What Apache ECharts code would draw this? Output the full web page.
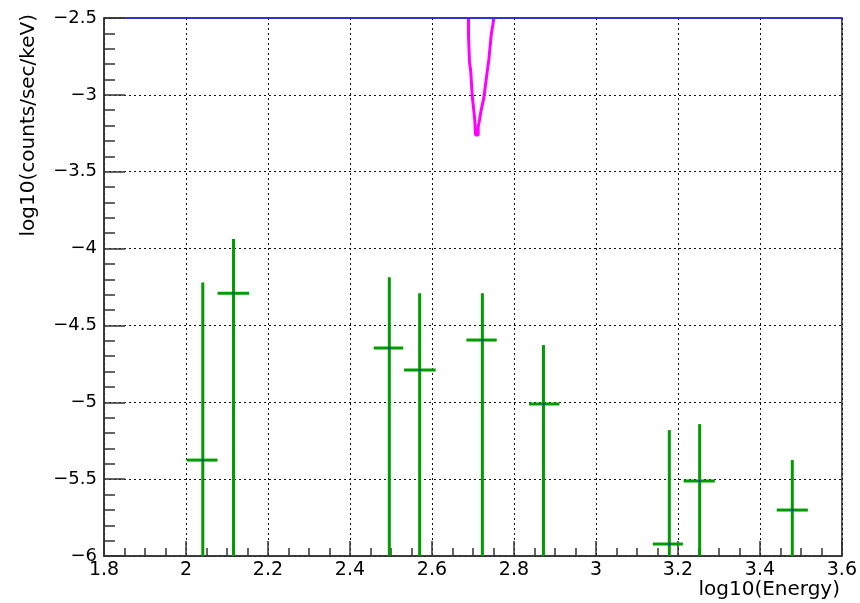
<!DOCTYPE html>
<html>
<head>
<meta charset="utf-8">
<script src="https://cdn.jsdelivr.net/npm/echarts@6/dist/echarts.min.js"></script>
<style>
  html, body { margin: 0; padding: 0; background: #fff; }
  #chart { width: 860px; height: 603px; }
</style>
</head>
<body>
<div id="chart"></div>
<script>
// Measured spectrum: log10 energy of each bin centre, bin edges, and rate with errors
const energy  = [2.041, 2.116, 2.496, 2.570, 2.723, 2.872, 3.179, 3.253, 3.479];
const binLo   = [2.002, 2.077, 2.458, 2.532, 2.684, 2.837, 3.139, 3.214, 3.441];
const binHi   = [2.077, 2.154, 2.530, 2.609, 2.758, 2.911, 3.212, 3.290, 3.517];
const rate    = [-5.376, -4.291, -4.647, -4.790, -4.595, -5.011, -5.922, -5.512, -5.701];
const rateHi  = [-4.220, -3.938, -4.187, -4.291, -4.291, -4.628, -5.181, -5.142, -5.376];
// lower error ends all fall below the plotted range
const rateLo  = [-7.0, -7.0, -7.0, -7.0, -7.0, -7.0, -7.0, -7.0, -7.0];

// Line model (magenta): only the dip around log10(E) ~ 2.71 lies inside the frame
const lineModelX = [2.6891, 2.6891, 2.6915, 2.6947, 2.6981, 2.7020, 2.7045, 2.7062, 2.7128,
                    2.7128, 2.7160, 2.7201, 2.7265, 2.7306, 2.7348, 2.7387, 2.7411, 2.7445, 2.7485, 2.7509];
const lineModelY = [-2.500, -2.611, -2.784, -2.849, -3.001, -3.099, -3.164, -3.261, -3.261,
                    -3.207, -3.164, -3.099, -3.020, -2.936, -2.849, -2.773, -2.708, -2.611, -2.546, -2.500];

// Continuum model (blue): above the frame everywhere, drawn at the upper edge
const contModelX = [1.851, 3.6];
const contModelY = [-2.5, -2.5];

// Axis ranges and tick spacing
const xRange = [1.8, 3.6], xStep = 0.2;
const yRange = [-6, -2.5], yStep = 0.5;

const FONT = 'DejaVu Sans';
const AXIS_COLOR = '#333';
const fmt = v => String(+(+v).toFixed(2)).replace('-', '\u2212');

const chart = echarts.init(document.getElementById('chart'), null, { renderer: 'canvas' });

const pointData = energy.map((e, i) => [e, rate[i], binLo[i], binHi[i], rateLo[i], rateHi[i]]);

chart.setOption({
  animation: false,
  backgroundColor: '#fff',
  grid: {
    left: 104, top: 18, right: 18, bottom: 47,
    show: true, borderColor: AXIS_COLOR, borderWidth: 1.5, backgroundColor: 'transparent'
  },
  xAxis: {
    type: 'value', min: xRange[0], max: xRange[1], interval: xStep,
    axisLine: { onZero: false, lineStyle: { color: AXIS_COLOR, width: 1.5 } },
    axisTick: { inside: true, length: 15, lineStyle: { color: AXIS_COLOR, width: 1.5 } },
    minorTick: { show: true, splitNumber: 4, length: 8, lineStyle: { color: AXIS_COLOR, width: 1.5 } },
    splitLine: { show: true, lineStyle: { color: '#111', type: [2, 3], width: 1 } },
    axisLabel: { formatter: fmt, fontFamily: FONT, fontSize: 19, color: '#000', margin: 5 }
  },
  yAxis: {
    type: 'value', min: yRange[0], max: yRange[1], interval: yStep,
    axisLine: { onZero: false, lineStyle: { color: AXIS_COLOR, width: 1.5 } },
    axisTick: { inside: true, length: 21, lineStyle: { color: AXIS_COLOR, width: 1.5 } },
    minorTick: { show: true, splitNumber: 5, length: 11, lineStyle: { color: AXIS_COLOR, width: 1.5 } },
    splitLine: { show: true, lineStyle: { color: '#111', type: [2, 3], width: 1 } },
    axisLabel: { formatter: fmt, fontFamily: FONT, fontSize: 18, color: '#000', margin: 7 }
  },
  graphic: [
    {
      type: 'text', x: 840, y: 590,
      style: { text: 'log10(Energy)', font: '20px "DejaVu Sans"', fill: '#000', align: 'right', verticalAlign: 'middle' }
    },
    {
      type: 'text', x: 29, y: 14, rotation: Math.PI / 2,
      style: { text: 'log10(counts/sec/keV)', font: '20px "DejaVu Sans"', fill: '#000', align: 'right', verticalAlign: 'middle' }
    }
  ],
  series: [
    {
      type: 'custom',
      z: 2,
      clip: true,
      data: pointData,
      encode: { x: 0, y: 1 },
      renderItem(params, api) {
        const cs = params.coordSys;
        const bottom = cs.y + cs.height, top = cs.y;
        const x = api.value(0), y = api.value(1);
        const lo = api.coord([x, api.value(4)]);
        const hi = api.coord([x, api.value(5)]);
        const l = api.coord([api.value(2), y]);
        const r = api.coord([api.value(3), y]);
        const c = api.coord([x, y]);
        const y1 = Math.min(lo[1], bottom), y2 = Math.max(hi[1], top);
        const style = { stroke: '#009c00', lineWidth: 3, fill: null };
        return {
          type: 'group',
          children: [
            { type: 'line', shape: { x1: lo[0], y1: y1, x2: hi[0], y2: y2 }, style },
            { type: 'line', shape: { x1: l[0], y1: l[1], x2: r[0], y2: r[1] }, style },
            { type: 'rect', shape: { x: c[0] - 1, y: c[1] - 1, width: 2, height: 2 }, style: { fill: '#2020ff' } }
          ]
        };
      }
    },
    {
      type: 'line',
      z: 3,
      data: lineModelX.map((v, i) => [v, lineModelY[i]]),
      showSymbol: false,
      lineStyle: { color: '#ff00ff', width: 3 }
    },
    {
      type: 'line',
      z: 4,
      data: contModelX.map((v, i) => [v, contModelY[i]]),
      showSymbol: false,
      lineStyle: { color: '#3333cc', width: 2 }
    }
  ]
});
</script>
</body>
</html>
